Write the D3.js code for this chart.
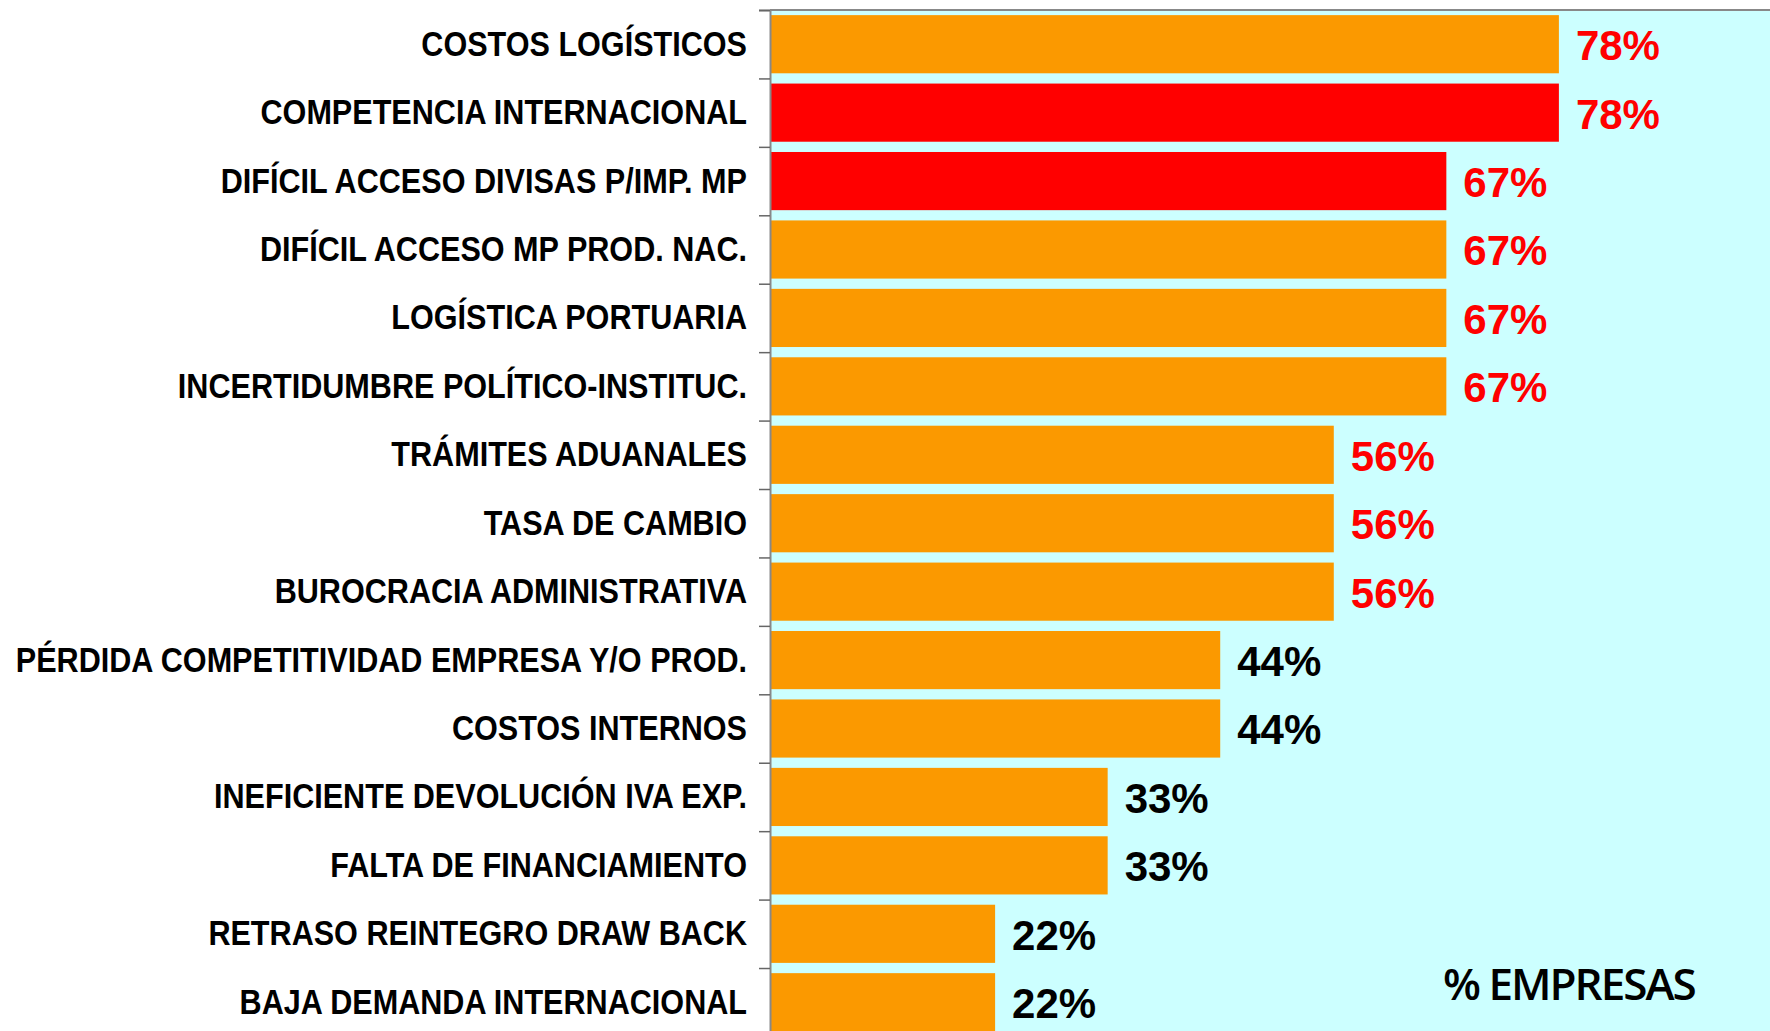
<!DOCTYPE html>
<html>
<head>
<meta charset="utf-8">
<script src="https://cdn.jsdelivr.net/npm/d3@7"></script>
<style>
  body { margin: 0; background: #fff; }
  svg { display: block; }
</style>
</head>
<body>
<div id="chart"></div>
<script>
// data
const categories = [
    'COSTOS LOGÍSTICOS',
    'COMPETENCIA INTERNACIONAL',
    'DIFÍCIL ACCESO DIVISAS P/IMP. MP',
    'DIFÍCIL ACCESO MP PROD. NAC.',
    'LOGÍSTICA PORTUARIA',
    'INCERTIDUMBRE POLÍTICO-INSTITUC.',
    'TRÁMITES ADUANALES',
    'TASA DE CAMBIO',
    'BUROCRACIA ADMINISTRATIVA',
    'PÉRDIDA COMPETITIVIDAD EMPRESA Y/O PROD.',
    'COSTOS INTERNOS',
    'INEFICIENTE DEVOLUCIÓN IVA EXP.',
    'FALTA DE FINANCIAMIENTO',
    'RETRASO REINTEGRO DRAW BACK',
    'BAJA DEMANDA INTERNACIONAL'
];
const values = [77.8, 77.8, 66.7, 66.7, 66.7, 66.7, 55.6, 55.6, 55.6, 44.4, 44.4, 33.3, 33.3, 22.2, 22.2];
const highlighted = ['COMPETENCIA INTERNACIONAL', 'DIFÍCIL ACCESO DIVISAS P/IMP. MP'];
const axisTitle = '% EMPRESAS';

const width = 1770, height = 1031;
const plotLeft = 770, plotTop = 10, step = 68.43;

const svg = d3.select('#chart').append('svg')
    .attr('width', width)
    .attr('height', height);

// Scales
const x = d3.scaleLinear().domain([0, 100]).range([plotLeft, plotLeft + 1014]);
const y = d3.scaleBand()
    .domain(categories)
    .range([plotTop, plotTop + step * categories.length])
    .paddingInner(0.15)
    .paddingOuter(0.075);

// Plot background
svg.append('rect')
    .attr('x', plotLeft)
    .attr('y', plotTop)
    .attr('width', width - plotLeft)
    .attr('height', height - plotTop)
    .style('fill', '#ccffff');

// Bars
svg.selectAll('rect.bar')
    .data(categories)
    .enter()
    .append('rect')
    .attr('class', 'bar')
    .attr('x', x(0))
    .attr('y', d => y(d))
    .attr('width', (d, i) => x(values[i]) - x(0))
    .attr('height', y.bandwidth())
    .style('fill', d => highlighted.includes(d) ? '#ff0000' : '#fb9900');

// Value labels
svg.selectAll('text.val')
    .data(categories)
    .enter()
    .append('text')
    .attr('class', 'val')
    .attr('x', (d, i) => x(values[i]) + 17)
    .attr('y', d => y(d) + y.bandwidth() / 2)
    .attr('dy', '0.38em')
    .style('font-family', '"Liberation Sans", Arial, sans-serif')
    .style('font-weight', 'bold')
    .style('font-size', '42px')
    .style('fill', (d, i) => values[i] >= 50 ? '#ff0000' : '#000')
    .text((d, i) => Math.round(values[i]) + '%');

// Top border
svg.append('line')
    .attr('x1', plotLeft).attr('x2', width)
    .attr('y1', plotTop).attr('y2', plotTop)
    .style('stroke', '#888')
    .style('stroke-width', 2);

// Ticks at band boundaries
const idx = d3.scaleLinear().domain([0, categories.length]).range(y.range());
const tickAxis = svg.append('g')
    .attr('transform', `translate(${plotLeft},0)`)
    .call(d3.axisLeft(idx)
        .tickValues(d3.range(categories.length + 1))
        .tickSize(11)
        .tickFormat(''));
tickAxis.select('.domain').style('stroke', '#888').style('stroke-width', 2);
tickAxis.selectAll('.tick line').style('stroke', '#666').style('stroke-width', 1.5);

// Category labels (narrow bold: squeeze Liberation Sans horizontally)
const labelAxis = svg.append('g')
    .attr('transform', `translate(${plotLeft},0)`)
    .call(d3.axisLeft(y).tickSize(0).tickPadding(23));
labelAxis.select('.domain').remove();
labelAxis.selectAll('text')
    .attr('x', 0)
    .attr('dy', '0.32em')
    .attr('transform', 'translate(-23,0) scale(0.85,1)')
    .style('font-family', '"Liberation Sans", Arial, sans-serif')
    .style('font-weight', 'bold')
    .style('font-size', '36px')
    .style('fill', '#000');

// Axis title
svg.append('text')
    .attr('x', 1443)
    .attr('y', 1000)
    .style('font-family', '"Open Sans", sans-serif')
    .style('font-weight', 600)
    .style('font-size', '44px')
    .style('letter-spacing', '-2px')
    .style('fill', '#000')
    .text(axisTitle);
</script>
</body>
</html>
